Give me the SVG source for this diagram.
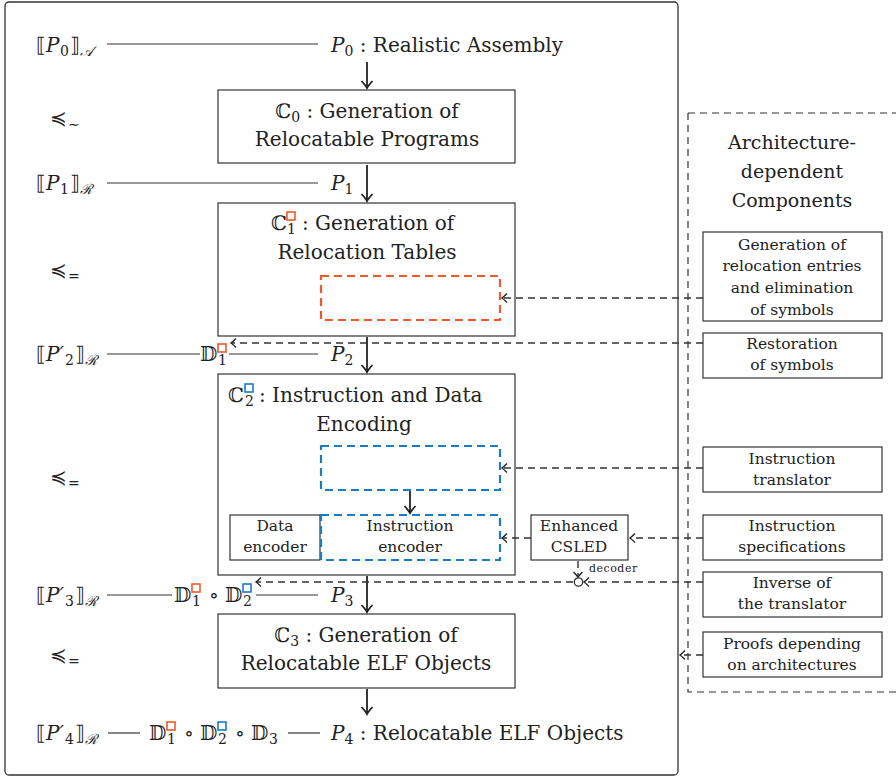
<svg xmlns="http://www.w3.org/2000/svg" width="896" height="777" viewBox="0 0 896 777">
<defs>
<marker id="sa" markerUnits="userSpaceOnUse" markerWidth="14" markerHeight="14" viewBox="-8 -7 10 14" refX="0" refY="0" orient="auto">
<path d="M-7,-5.5 Q-2,-1 0,0 Q-2,1 -7,5.5" fill="none" stroke="#222" stroke-width="1.8"/>
</marker>
<marker id="da" markerUnits="userSpaceOnUse" markerWidth="10" markerHeight="12" viewBox="-6 -6 8 12" refX="0" refY="0" orient="auto">
<path d="M-5,-4.5 Q-1.5,-1 0,0 Q-1.5,1 -5,4.5" fill="none" stroke="#222" stroke-width="1.4"/>
</marker>
</defs>

<rect x="5" y="2" width="673" height="773" rx="4" fill="#fff" stroke="#333" stroke-width="1.3"/>
<path d="M688,113 H896 M688,113 V692 H896" fill="none" stroke="#333" stroke-width="1.2" stroke-dasharray="7 5"/>

<g id="row0">
<text font-family="DejaVu Serif" font-size="20" fill="#222" y="52"><tspan x="36">⟦</tspan><tspan x="46" font-style="italic">P</tspan><tspan x="60" dy="4" font-size="14">0</tspan><tspan x="70" dy="-4">⟧</tspan><tspan x="80" dy="4" font-size="14" font-style="italic">𝒜</tspan></text>
<text font-family="DejaVu Serif" font-size="20" fill="#222" x="331" y="52"><tspan font-style="italic">P</tspan><tspan font-size="14" dy="4">0</tspan><tspan dy="-4"> : Realistic Assembly</tspan></text>
</g>
<g id="rel0"><text font-family="DejaVu Serif" font-size="20" fill="#222" y="125"><tspan x="50">≼</tspan><tspan x="68" dy="4" font-size="14">∼</tspan></text></g>

<g id="C0">
<rect x="218" y="90" width="297" height="73" fill="#fff" stroke="#333" stroke-width="1.2"/>
<text font-family="DejaVu Serif" font-size="20" fill="#222" x="367" y="118" text-anchor="middle">ℂ<tspan font-size="14" dy="4">0</tspan><tspan dy="-4"> : Generation of</tspan></text>
<text font-family="DejaVu Serif" font-size="20" fill="#222" x="367" y="146" text-anchor="middle">Relocatable Programs</text>
</g>

<g id="row1">
<text font-family="DejaVu Serif" font-size="20" fill="#222" y="190"><tspan x="36">⟦</tspan><tspan x="46" font-style="italic">P</tspan><tspan x="60" dy="4" font-size="14">1</tspan><tspan x="70" dy="-4">⟧</tspan><tspan x="80" dy="4" font-size="14" font-style="italic">ℛ</tspan></text>
<text font-family="DejaVu Serif" font-size="20" fill="#222" x="331" y="190"><tspan font-style="italic">P</tspan><tspan font-size="14" dy="4">1</tspan></text>
</g>
<g id="rel1"><text font-family="DejaVu Serif" font-size="20" fill="#222" y="277"><tspan x="50">≼</tspan><tspan x="68" dy="4" font-size="14">=</tspan></text></g>

<g id="C1">
<rect x="218" y="203" width="297" height="133" fill="#fff" stroke="#333" stroke-width="1.2"/>
<text font-family="DejaVu Serif" font-size="20" fill="#222" y="230"><tspan x="271">ℂ</tspan><tspan x="287" dy="4" font-size="14">1</tspan><tspan x="302" dy="-4">: Generation of</tspan></text>
<rect x="287" y="212" width="8" height="8" fill="#fff" stroke="#EE5A2B" stroke-width="1.6"/>
<text font-family="DejaVu Serif" font-size="20" fill="#222" x="367" y="259" text-anchor="middle">Relocation Tables</text>
<rect x="321" y="276" width="179" height="44" fill="none" stroke="#EE5A2B" stroke-width="2.2" stroke-dasharray="8 5"/>
</g>

<g id="row2">
<text font-family="DejaVu Serif" font-size="20" fill="#222" y="361"><tspan x="36">⟦</tspan><tspan x="46" font-style="italic">P′</tspan><tspan x="65" dy="4" font-size="14">2</tspan><tspan x="75" dy="-4">⟧</tspan><tspan x="85" dy="4" font-size="14" font-style="italic">ℛ</tspan></text>
<text font-family="DejaVu Serif" font-size="20" fill="#222" y="361"><tspan x="200">𝔻</tspan><tspan x="218" dy="4" font-size="14">1</tspan></text>
<rect x="218" y="344" width="8" height="8" fill="#fff" stroke="#EE5A2B" stroke-width="1.6"/>
<text font-family="DejaVu Serif" font-size="20" fill="#222" x="331" y="361"><tspan font-style="italic">P</tspan><tspan font-size="14" dy="4">2</tspan></text>
</g>

<g id="C2">
<rect x="218" y="374" width="297" height="201" fill="#fff" stroke="#333" stroke-width="1.2"/>
<text font-family="DejaVu Serif" font-size="20" fill="#222" y="402"><tspan x="228">ℂ</tspan><tspan x="245" dy="4" font-size="14">2</tspan><tspan x="259" dy="-4">: Instruction and Data</tspan></text>
<rect x="245" y="384" width="8" height="8" fill="#fff" stroke="#1A7DC1" stroke-width="1.6"/>
<text font-family="DejaVu Serif" font-size="20" fill="#222" x="364" y="431" text-anchor="middle">Encoding</text>
<rect x="321" y="446" width="179" height="44" fill="none" stroke="#1A7DC1" stroke-width="2.2" stroke-dasharray="8 5"/>
</g>
<g id="rel2"><text font-family="DejaVu Serif" font-size="20" fill="#222" y="484"><tspan x="50">≼</tspan><tspan x="68" dy="4" font-size="14">=</tspan></text></g>

<g id="data-encoder">
<rect x="230" y="515" width="90" height="45" fill="#fff" stroke="#333" stroke-width="1.2"/>
<text font-family="DejaVu Serif" font-size="15.5" fill="#222" text-anchor="middle" x="275" y="531">Data</text>
<text font-family="DejaVu Serif" font-size="15.5" fill="#222" text-anchor="middle" x="275" y="552">encoder</text>
</g>
<g id="instruction-encoder">
<rect x="321" y="515" width="179" height="45" fill="none" stroke="#1A7DC1" stroke-width="2.2" stroke-dasharray="8 5"/>
<text font-family="DejaVu Serif" font-size="15.5" fill="#222" text-anchor="middle" x="410" y="531">Instruction</text>
<text font-family="DejaVu Serif" font-size="15.5" fill="#222" text-anchor="middle" x="410" y="552">encoder</text>
</g>
<g id="csled">
<rect x="531" y="515" width="97" height="45" fill="#fff" stroke="#333" stroke-width="1.2"/>
<text font-family="DejaVu Serif" font-size="15.5" fill="#222" text-anchor="middle" x="579" y="531">Enhanced</text>
<text font-family="DejaVu Serif" font-size="15.5" fill="#222" text-anchor="middle" x="579" y="552">CSLED</text>
</g>

<g id="row3">
<text font-family="DejaVu Serif" font-size="20" fill="#222" y="602"><tspan x="36">⟦</tspan><tspan x="46" font-style="italic">P′</tspan><tspan x="65" dy="4" font-size="14">3</tspan><tspan x="75" dy="-4">⟧</tspan><tspan x="85" dy="4" font-size="14" font-style="italic">ℛ</tspan></text>
<text font-family="DejaVu Serif" font-size="20" fill="#222" y="602"><tspan x="174">𝔻</tspan><tspan x="192" dy="4" font-size="14">1</tspan><tspan x="209" dy="-4">∘</tspan><tspan x="225">𝔻</tspan><tspan x="243" dy="4" font-size="14">2</tspan></text>
<rect x="192" y="584" width="8" height="8" fill="#fff" stroke="#EE5A2B" stroke-width="1.6"/>
<rect x="243" y="584" width="8" height="8" fill="#fff" stroke="#1A7DC1" stroke-width="1.6"/>
<text font-family="DejaVu Serif" font-size="20" fill="#222" x="331" y="602"><tspan font-style="italic">P</tspan><tspan font-size="14" dy="4">3</tspan></text>
</g>

<g id="C3">
<rect x="218" y="614" width="297" height="74" fill="#fff" stroke="#333" stroke-width="1.2"/>
<text font-family="DejaVu Serif" font-size="20" fill="#222" x="366" y="642" text-anchor="middle">ℂ<tspan font-size="14" dy="4">3</tspan><tspan dy="-4"> : Generation of</tspan></text>
<text font-family="DejaVu Serif" font-size="20" fill="#222" x="366" y="670" text-anchor="middle">Relocatable ELF Objects</text>
</g>
<g id="rel3"><text font-family="DejaVu Serif" font-size="20" fill="#222" y="662"><tspan x="50">≼</tspan><tspan x="68" dy="4" font-size="14">=</tspan></text></g>

<g id="row4">
<text font-family="DejaVu Serif" font-size="20" fill="#222" y="740"><tspan x="36">⟦</tspan><tspan x="46" font-style="italic">P′</tspan><tspan x="65" dy="4" font-size="14">4</tspan><tspan x="75" dy="-4">⟧</tspan><tspan x="85" dy="4" font-size="14" font-style="italic">ℛ</tspan></text>
<text font-family="DejaVu Serif" font-size="20" fill="#222" y="740"><tspan x="149">𝔻</tspan><tspan x="167" dy="4" font-size="14">1</tspan><tspan x="184" dy="-4">∘</tspan><tspan x="200">𝔻</tspan><tspan x="218" dy="4" font-size="14">2</tspan><tspan x="235" dy="-4">∘</tspan><tspan x="251">𝔻</tspan><tspan x="269" dy="4" font-size="14">3</tspan></text>
<rect x="167" y="722" width="8" height="8" fill="#fff" stroke="#EE5A2B" stroke-width="1.6"/>
<rect x="218" y="722" width="8" height="8" fill="#fff" stroke="#1A7DC1" stroke-width="1.6"/>
<text font-family="DejaVu Serif" font-size="20" fill="#222" x="331" y="740"><tspan font-style="italic">P</tspan><tspan font-size="14" dy="4">4</tspan><tspan dy="-4"> : Relocatable ELF Objects</tspan></text>
</g>

<g id="arch-heading">
<text font-family="DejaVu Serif" font-size="19" fill="#222" text-anchor="middle" x="792" y="149">Architecture-</text>
<text font-family="DejaVu Serif" font-size="19" fill="#222" text-anchor="middle" x="792" y="178">dependent</text>
<text font-family="DejaVu Serif" font-size="19" fill="#222" text-anchor="middle" x="792" y="207">Components</text>
</g>
<g id="gen-reloc">
<rect x="703" y="232" width="179" height="89" fill="#fff" stroke="#333" stroke-width="1.2"/>
<text font-family="DejaVu Serif" font-size="15.5" fill="#222" text-anchor="middle" x="792" y="250">Generation of</text>
<text font-family="DejaVu Serif" font-size="15.5" fill="#222" text-anchor="middle" x="792" y="271">relocation entries</text>
<text font-family="DejaVu Serif" font-size="15.5" fill="#222" text-anchor="middle" x="792" y="293">and elimination</text>
<text font-family="DejaVu Serif" font-size="15.5" fill="#222" text-anchor="middle" x="792" y="315">of symbols</text>
</g>
<g id="restoration">
<rect x="703" y="333" width="179" height="45" fill="#fff" stroke="#333" stroke-width="1.2"/>
<text font-family="DejaVu Serif" font-size="15.5" fill="#222" text-anchor="middle" x="792" y="349">Restoration</text>
<text font-family="DejaVu Serif" font-size="15.5" fill="#222" text-anchor="middle" x="792" y="370">of symbols</text>
</g>
<g id="translator">
<rect x="703" y="447" width="179" height="45" fill="#fff" stroke="#333" stroke-width="1.2"/>
<text font-family="DejaVu Serif" font-size="15.5" fill="#222" text-anchor="middle" x="792" y="464">Instruction</text>
<text font-family="DejaVu Serif" font-size="15.5" fill="#222" text-anchor="middle" x="792" y="485">translator</text>
</g>
<g id="specs">
<rect x="703" y="515" width="179" height="45" fill="#fff" stroke="#333" stroke-width="1.2"/>
<text font-family="DejaVu Serif" font-size="15.5" fill="#222" text-anchor="middle" x="792" y="531">Instruction</text>
<text font-family="DejaVu Serif" font-size="15.5" fill="#222" text-anchor="middle" x="792" y="552">specifications</text>
</g>
<g id="inverse">
<rect x="703" y="572" width="179" height="45" fill="#fff" stroke="#333" stroke-width="1.2"/>
<text font-family="DejaVu Serif" font-size="15.5" fill="#222" text-anchor="middle" x="792" y="588">Inverse of</text>
<text font-family="DejaVu Serif" font-size="15.5" fill="#222" text-anchor="middle" x="792" y="609">the translator</text>
</g>
<g id="proofs">
<rect x="703" y="632" width="179" height="45" fill="#fff" stroke="#333" stroke-width="1.2"/>
<text font-family="DejaVu Serif" font-size="15.5" fill="#222" text-anchor="middle" x="792" y="649">Proofs depending</text>
<text font-family="DejaVu Serif" font-size="15.5" fill="#222" text-anchor="middle" x="792" y="670">on architectures</text>
</g>

<g id="connectors" fill="none">
<g stroke="#333" stroke-width="1.2">
<line x1="107" y1="44" x2="318" y2="44"/>
<line x1="107" y1="183" x2="318" y2="183"/>
<line x1="107" y1="354" x2="200" y2="354"/>
<line x1="229" y1="354" x2="318" y2="354"/>
<line x1="107" y1="595" x2="172" y2="595"/>
<line x1="256" y1="595" x2="318" y2="595"/>
<line x1="108" y1="733" x2="140" y2="733"/>
<line x1="288" y1="733" x2="320" y2="733"/>
</g>
<g stroke="#222" stroke-width="1.8" marker-end="url(#sa)">
<line x1="367" y1="62" x2="367" y2="88"/>
<line x1="367" y1="165" x2="367" y2="201"/>
<line x1="367" y1="337" x2="367" y2="372"/>
<line x1="367" y1="576" x2="367" y2="612"/>
<line x1="367" y1="689" x2="367" y2="714"/>
<line x1="410" y1="491" x2="410" y2="513"/>
</g>
<g stroke="#333" stroke-width="1.4" stroke-dasharray="7 5" marker-end="url(#da)">
<line x1="703" y1="298" x2="502" y2="298"/>
<line x1="703" y1="343" x2="231" y2="343"/>
<line x1="703" y1="468" x2="502" y2="468"/>
<line x1="531" y1="538" x2="502" y2="538"/>
<line x1="703" y1="538" x2="630" y2="538"/>
<line x1="578" y1="561" x2="578" y2="577"/>
<line x1="703" y1="582" x2="584" y2="582"/>
<line x1="573" y1="582" x2="256" y2="582"/>
<line x1="703" y1="655" x2="680" y2="655"/>
</g>
<circle cx="578.5" cy="582" r="4.2" fill="#fff" stroke="#333" stroke-width="1.3"/>
<text font-family="DejaVu Serif" font-size="11" letter-spacing="0.5" fill="#222" x="589" y="572">decoder</text>
</g>
</svg>
